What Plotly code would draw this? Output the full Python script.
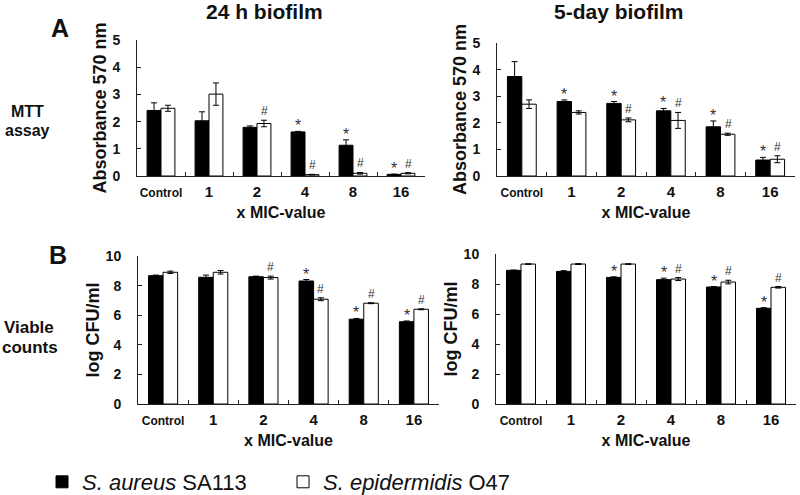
import plotly.graph_objects as go

# ---------------- data ----------------
categories = ["Control", "1", "2", "4", "8", "16"]
tick_labels = ["Control", "1", "2", "4", "8", "16"]
series_names = ["<i>S. aureus</i> SA113", "<i>S. epidermidis</i> O47"]

mtt24_sa = [2.41, 2.03, 1.79, 1.62, 1.13, 0.06]
mtt24_sa_err = [0.28, 0.33, 0.05, 0.02, 0.20, 0.01]
mtt24_se = [2.49, 3.01, 1.93, 0.05, 0.10, 0.10]
mtt24_se_err = [0.11, 0.41, 0.12, 0.01, 0.03, 0.02]

mtt5_sa = [3.74, 2.80, 2.73, 2.45, 1.85, 0.60]
mtt5_sa_err = [0.56, 0.06, 0.07, 0.09, 0.22, 0.10]
mtt5_se = [2.70, 2.39, 2.11, 2.09, 1.57, 0.63]
mtt5_se_err = [0.16, 0.06, 0.07, 0.30, 0.04, 0.13]

cfu24_sa = [8.67, 8.56, 8.60, 8.31, 5.73, 5.56]
cfu24_sa_err = [0.04, 0.15, 0.04, 0.10, 0.05, 0.05]
cfu24_se = [8.90, 8.90, 8.54, 7.08, 6.81, 6.40]
cfu24_se_err = [0.08, 0.12, 0.10, 0.10, 0.03, 0.03]

cfu5_sa = [8.91, 8.84, 8.44, 8.29, 7.80, 6.38]
cfu5_sa_err = [0.02, 0.05, 0.04, 0.10, 0.03, 0.04]
cfu5_se = [9.33, 9.33, 9.33, 8.33, 8.13, 7.78]
cfu5_se_err = [0.02, 0.03, 0.02, 0.10, 0.12, 0.05]

# significance flags (* for S. aureus, # for S. epidermidis)
mtt24_star = [0, 0, 0, 1, 1, 1]
mtt24_hash = [0, 0, 1, 1, 1, 1]
mtt5_star = [0, 1, 1, 1, 1, 1]
mtt5_hash = [0, 0, 1, 1, 1, 1]
cfu24_star = [0, 0, 0, 1, 1, 1]
cfu24_hash = [0, 0, 1, 1, 1, 1]
cfu5_star = [0, 0, 1, 1, 1, 1]
cfu5_hash = [0, 0, 0, 1, 1, 1]

# ---------------- layout helpers ----------------
W, H = 800, 495
FONT = "Liberation Sans, Arial, Helvetica, sans-serif"


def px_x(a, b):
    return [a / W, b / W]


def px_y(top, bottom):
    return [(H - bottom) / H, (H - top) / H]


panels = [
    (mtt24_sa, mtt24_sa_err, mtt24_se, mtt24_se_err, mtt24_star, mtt24_hash,
     px_x(137, 425), px_y(40, 176), [0, 5], 1, "Absorbance 570 nm", 7),
    (mtt5_sa, mtt5_sa_err, mtt5_se, mtt5_se_err, mtt5_star, mtt5_hash,
     px_x(497, 795), px_y(43, 176), [0, 5], 1, "Absorbance 570 nm", 7.5),
    (cfu24_sa, cfu24_sa_err, cfu24_se, cfu24_se_err, cfu24_star, cfu24_hash,
     px_x(138, 439), px_y(256, 404), [0, 10], 2, "log CFU/ml", 7.3),
    (cfu5_sa, cfu5_sa_err, cfu5_se, cfu5_se_err, cfu5_star, cfu5_hash,
     px_x(496, 796), px_y(254, 404), [0, 10], 2, "log CFU/ml", 7.3),
]

fig = go.Figure()
annotations = []

ticktext = [
    (f"<span style='font-size:12px'>{t}</span>" if not t.isdigit()
     else f"<span style='font-size:15px'>{t}</span>")
    for t in tick_labels
]

for i, (sa, sae, se, see, star, hsh, xd, yd, yr, dt, ytitle, half) in enumerate(panels):
    n = i + 1
    xa = "x" if n == 1 else f"x{n}"
    ya = "y" if n == 1 else f"y{n}"
    fig.add_trace(go.Bar(
        x=categories, y=sa, name=series_names[0], xaxis=xa, yaxis=ya,
        marker=dict(color="black", line=dict(color="black", width=1)),
        error_y=dict(type="data", array=sae, color="black", thickness=1, width=3),
        showlegend=(n == 1), legendgroup="sa",
    ))
    fig.add_trace(go.Bar(
        x=categories, y=se, name=series_names[1], xaxis=xa, yaxis=ya,
        marker=dict(color="white", line=dict(color="black", width=1)),
        error_y=dict(type="data", array=see, color="black", thickness=1, width=3),
        showlegend=(n == 1), legendgroup="se",
    ))
    suffix = "" if n == 1 else str(n)
    fig.update_layout({
        f"xaxis{suffix}": dict(
            domain=xd, anchor=ya, type="category", range=[-0.5, 5.5],
            categoryorder="array", categoryarray=categories,
            tickmode="array", tickvals=categories, ticktext=ticktext, tickangle=0,
            tickson="boundaries", ticks="inside", ticklen=4, tickcolor="#222",
            showline=True, linecolor="#222", linewidth=1, showgrid=False,
            tickfont=dict(family=FONT, size=13, color="#111", weight="bold"),
            ticklabelstandoff=4, automargin=False,
            title=dict(text="x MIC-value", standoff=8,
                       font=dict(family=FONT, size=16, color="#111", weight="bold")),
            fixedrange=True,
        ),
        f"yaxis{suffix}": dict(
            domain=yd, anchor=xa, range=yr, dtick=dt, tick0=0,
            ticks="inside", ticklen=4, tickcolor="#222",
            showline=True, linecolor="#222", linewidth=1, showgrid=False,
            zeroline=False, automargin=False,
            tickfont=dict(family=FONT, size=14, color="#111", weight="bold"),
            ticklabelstandoff=13,
            title=dict(text=ytitle, standoff=1,
                       font=dict(family=FONT, size=18, color="#111", weight="bold")),
            fixedrange=True,
        ),
    })
    for j in range(len(categories)):
        if star[j]:
            annotations.append(dict(
                x=j, y=sa[j] + sae[j], xref=xa, yref=ya, text="*",
                showarrow=False, xshift=-half, yshift=-5, yanchor="bottom",
                font=dict(family=FONT, size=16, color="#333")))
        if hsh[j]:
            annotations.append(dict(
                x=j, y=se[j] + see[j], xref=xa, yref=ya, text="#",
                showarrow=False, xshift=half, yshift=0, yanchor="bottom",
                font=dict(family=FONT, size=12, color="#333")))


def ann_px(text, x, y, size, bold=True):
    annotations.append(dict(
        text=text, x=x / W, y=(H - y) / H, xref="paper", yref="paper",
        showarrow=False, xanchor="center", yanchor="middle",
        font=dict(family=FONT, size=size, color="#111",
                  weight="bold" if bold else "normal")))


ann_px("24 h biofilm", 264, 11, 21)
ann_px("5-day biofilm", 619, 11, 21)
ann_px("A", 60, 28, 25)
ann_px("B", 58, 255, 25)
ann_px("MTT", 27, 111, 16)
ann_px("assay", 27, 130, 16)
ann_px("Viable", 29, 327, 17)
ann_px("counts", 30, 347, 17)

fig.update_layout(
    width=W, height=H,
    margin=dict(l=0, r=0, t=0, b=0, pad=0, autoexpand=False),
    paper_bgcolor="white", plot_bgcolor="white",
    barmode="group", bargap=0.42, bargroupgap=0,
    annotations=annotations,
    showlegend=True,
    legend=dict(
        orientation="h", x=42 / W, y=(H - 482) / H, xanchor="left", yanchor="middle",
        font=dict(family=FONT, size=22, color="#111"),
        entrywidth=196, bgcolor="rgba(0,0,0,0)", traceorder="normal",
    ),
    font=dict(family=FONT),
    hovermode=False,
)

fig.write_html(
    "out.html",
    config={"displayModeBar": False, "staticPlot": False},
    post_script="document.body.style.margin='0';document.body.style.padding='0';"
                "document.body.style.overflow='hidden';",
)
